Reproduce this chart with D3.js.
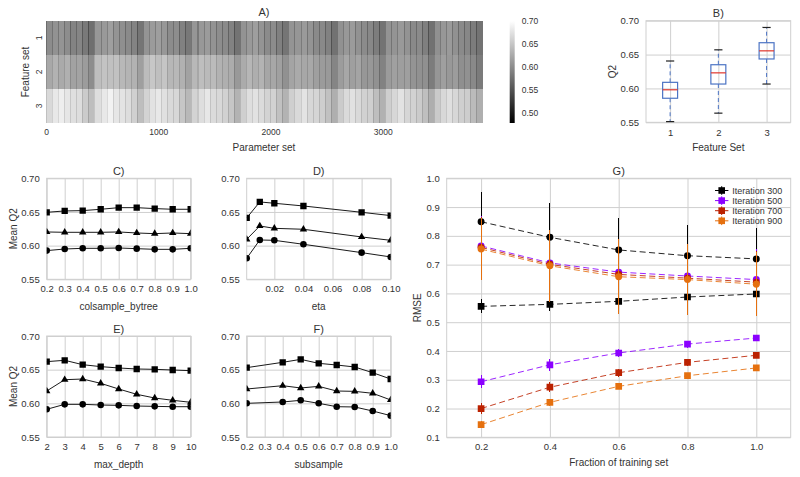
<!DOCTYPE html>
<html><head><meta charset="utf-8">
<script src="https://cdn.jsdelivr.net/npm/d3@7"></script>
<style>
body{margin:0;background:#fff;}
svg{display:block;}
</style></head><body>
<svg id="chart" width="800" height="477"></svg>
<script>
// ================= DATA =================
// A) heatmap: 3888 parameter sets x 3 feature sets.
// Values read per block of 54 parameter sets; "line" = first 9 sets of each block.
const nParamSets = 3888;
const blockSize = 54;
const lineSize = 9;
const featureSets = [1, 2, 3];
const heatXTicks = [0, 1000, 2000, 3000];
const heatMain1 = [
0.600,0.605,0.607,0.601,0.592,0.594,0.583,0.574, 0.609,0.611,0.616,0.607,0.602,0.598,0.592,0.580,
0.607,0.613,0.615,0.609,0.600,0.601,0.590,0.582, 0.608,0.610,0.613,0.606,0.601,0.598,0.591,0.578,
0.606,0.611,0.615,0.607,0.599,0.600,0.589,0.580, 0.607,0.608,0.612,0.607,0.598,0.597,0.590,0.577,
0.604,0.610,0.613,0.605,0.599,0.596,0.587,0.578, 0.606,0.607,0.611,0.606,0.597,0.598,0.588,0.576,
0.603,0.609,0.612,0.604,0.598,0.595,0.586,0.578];
const heatLine1 = [
0.572,0.578,0.579,0.574,0.563,0.567,0.555,0.545, 0.581,0.583,0.589,0.579,0.575,0.570,0.564,0.551,
0.579,0.586,0.587,0.582,0.571,0.574,0.561,0.554, 0.580,0.582,0.586,0.578,0.573,0.569,0.563,0.549,
0.578,0.584,0.587,0.579,0.570,0.573,0.560,0.552, 0.580,0.580,0.585,0.579,0.569,0.569,0.562,0.548,
0.576,0.583,0.585,0.577,0.571,0.567,0.558,0.550, 0.579,0.579,0.584,0.578,0.568,0.570,0.560,0.547,
0.575,0.582,0.584,0.576,0.570,0.566,0.557,0.550];
const heatMain2 = [
0.624,0.633,0.626,0.631,0.619,0.620,0.614,0.601, 0.643,0.648,0.645,0.646,0.638,0.635,0.633,0.616,
0.642,0.651,0.644,0.649,0.637,0.638,0.632,0.619, 0.638,0.643,0.640,0.641,0.633,0.630,0.628,0.611,
0.627,0.636,0.629,0.634,0.622,0.623,0.617,0.604, 0.621,0.626,0.623,0.624,0.616,0.613,0.611,0.594,
0.614,0.623,0.616,0.621,0.609,0.610,0.604,0.591, 0.613,0.617,0.615,0.616,0.607,0.604,0.603,0.586,
0.608,0.616,0.610,0.614,0.602,0.604,0.597,0.585];
const heatLine2 = [
0.604,0.613,0.606,0.611,0.599,0.600,0.594,0.581, 0.623,0.628,0.625,0.626,0.618,0.615,0.613,0.596,
0.622,0.631,0.624,0.629,0.617,0.618,0.612,0.599, 0.618,0.623,0.620,0.621,0.613,0.610,0.608,0.591,
0.607,0.616,0.609,0.614,0.602,0.603,0.597,0.584, 0.601,0.606,0.603,0.604,0.596,0.593,0.591,0.574,
0.594,0.603,0.596,0.601,0.589,0.590,0.584,0.571, 0.593,0.597,0.595,0.596,0.587,0.584,0.583,0.566,
0.588,0.596,0.590,0.594,0.582,0.584,0.577,0.565];
const heatMain3 = [
0.667,0.680,0.685,0.678,0.672,0.670,0.655,0.643, 0.671,0.680,0.689,0.678,0.676,0.670,0.659,0.643,
0.662,0.675,0.680,0.673,0.667,0.665,0.650,0.638, 0.662,0.671,0.679,0.669,0.666,0.660,0.650,0.634,
0.658,0.671,0.675,0.669,0.662,0.661,0.646,0.634, 0.658,0.667,0.676,0.665,0.663,0.657,0.646,0.630,
0.655,0.668,0.674,0.667,0.660,0.658,0.643,0.632, 0.657,0.665,0.675,0.664,0.661,0.655,0.644,0.629,
0.654,0.666,0.672,0.665,0.658,0.656,0.641,0.630];
const heatLine3 = [
0.645,0.658,0.663,0.656,0.650,0.648,0.633,0.621, 0.649,0.658,0.667,0.656,0.654,0.648,0.637,0.621,
0.640,0.653,0.658,0.651,0.645,0.643,0.628,0.616, 0.640,0.649,0.657,0.647,0.644,0.638,0.628,0.612,
0.636,0.649,0.653,0.647,0.640,0.639,0.624,0.612, 0.636,0.645,0.654,0.643,0.641,0.635,0.624,0.608,
0.633,0.646,0.652,0.645,0.638,0.636,0.621,0.610, 0.635,0.643,0.653,0.642,0.639,0.633,0.622,0.607,
0.632,0.644,0.650,0.643,0.636,0.634,0.619,0.608];
const cbarDomain = [0.4776, 0.70];
const cbarTicks = [0.50, 0.55, 0.60, 0.65, 0.70];

// B) box plot stats: [whisker low, q1, median, q3, whisker high]
const boxSet1 = [0.551, 0.5855, 0.598, 0.609, 0.6405];
const boxSet2 = [0.5635, 0.6065, 0.623, 0.635, 0.657];
const boxSet3 = [0.6065, 0.6435, 0.6555, 0.6675, 0.690];
const q2Ticks = [0.55, 0.60, 0.65, 0.70];

// C) colsample_bytree
const colsample = [0.2,0.3,0.4,0.5,0.6,0.7,0.8,0.9,1.0];
const colsampleSet1 = [0.5926,0.5950,0.5960,0.5960,0.5965,0.5955,0.5945,0.5945,0.5960];
const colsampleSet2 = [0.6203,0.6198,0.6198,0.6198,0.6203,0.6188,0.6178,0.6188,0.6178];
const colsampleSet3 = [0.6495,0.6515,0.6520,0.6540,0.6564,0.6564,0.6550,0.6540,0.6540];
// D) eta
const eta = [0.001,0.01,0.02,0.04,0.08,0.1];
const etaTicks = [0.02,0.04,0.06,0.08,0.10];
const etaSet1 = [0.5812,0.6084,0.6079,0.6020,0.5896,0.5832];
const etaSet2 = [0.6094,0.6292,0.6257,0.6243,0.6129,0.6079];
const etaSet3 = [0.6411,0.6649,0.6629,0.6589,0.6495,0.6446];
// E) max_depth
const maxDepth = [2,3,4,5,6,7,8,9,10];
const depthSet1 = [0.5911,0.5985,0.5985,0.5975,0.5970,0.5960,0.5955,0.5950,0.5950];
const depthSet2 = [0.6183,0.6351,0.6361,0.6297,0.6213,0.6134,0.6079,0.6045,0.6015];
const depthSet3 = [0.6619,0.6639,0.6574,0.6545,0.6525,0.6510,0.6505,0.6495,0.6485];
// F) subsample
const subsample = [0.2,0.4,0.5,0.6,0.7,0.8,0.9,1.0];
const subsampleTicks = [0.2,0.3,0.4,0.5,0.6,0.7,0.8,0.9,1.0];
const subsampleSet1 = [0.6000,0.6020,0.6045,0.6000,0.5950,0.5946,0.5886,0.5817];
const subsampleSet2 = [0.6213,0.6262,0.6228,0.6252,0.6183,0.6178,0.6149,0.6050];
const subsampleSet3 = [0.6530,0.6609,0.6653,0.6594,0.6569,0.6540,0.6455,0.6361];

// G) learning curves
const fractions = [0.2,0.4,0.6,0.8,1.0];
const iterations = [300,500,700,900];
const testRMSE300 = [0.849,0.795,0.751,0.731,0.720];
const testRMSE500 = [0.765,0.706,0.674,0.6605,0.648];
const testRMSE700 = [0.760,0.701,0.666,0.653,0.639];
const testRMSE900 = [0.754,0.696,0.658,0.648,0.632];
const testErr300 = [0.104,0.118,0.112,0.107,0.106];
const testErr500 = [0.104,0.114,0.115,0.110,0.105];
const testErr700 = [0.106,0.120,0.122,0.115,0.108];
const testErr900 = [0.108,0.125,0.130,0.122,0.112];
const trainRMSE300 = [0.555,0.562,0.5725,0.5875,0.598];
const trainRMSE500 = [0.293,0.352,0.393,0.424,0.445];
const trainRMSE700 = [0.200,0.274,0.3245,0.3605,0.385];
const trainRMSE900 = [0.144,0.2215,0.277,0.314,0.341];
const trainErr300 = [0.024,0.022,0.020,0.020,0.020];
const trainErr500 = [0.022,0.020,0.015,0.012,0.010];
const trainErr700 = [0.020,0.018,0.014,0.012,0.010];
const trainErr900 = [0.012,0.012,0.010,0.010,0.008];
const rmseTicks = [0.1,0.2,0.3,0.4,0.5,0.6,0.7,0.8,0.9,1.0];

// ================= STYLE =================
const FONT = '"Liberation Sans", Arial, Helvetica, sans-serif';
const TXT = "#333333";
const GRID = "#cfcfcf";
const iterColors = ["#000000", "#8b00ff", "#bb2100", "#e5700f"];
const svg = d3.select("#chart").style("font-family", FONT);
const fmt1 = d3.format(".1f"), fmt2 = d3.format(".2f"), fmtD = d3.format("d");

function styleAxis(a, size) {
  a.select(".domain").remove();
  a.selectAll(".tick line").attr("stroke", GRID).attr("stroke-width", 1);
  a.selectAll(".tick text").attr("fill", TXT).style("font-size", size + "px").style("font-family", FONT);
}
function gridAxes(g, x, y, xTicks, yTicks, xFmt, yFmt, padX) {
  const [xa, xb] = x.range(), [yb, ya] = y.range();
  const gx = g.append("g").attr("transform", `translate(0,${yb})`)
    .call(d3.axisBottom(x).tickValues(xTicks).tickFormat(xFmt).tickSizeInner(-(yb - ya)).tickSizeOuter(0).tickPadding(padX || 6));
  const gy = g.append("g").attr("transform", `translate(${xa},0)`)
    .call(d3.axisLeft(y).tickValues(yTicks).tickFormat(yFmt).tickSizeInner(-(xb - xa)).tickSizeOuter(0).tickPadding(7));
  styleAxis(gx, 9.5); styleAxis(gy, 9.5);
  g.append("rect").attr("x", xa).attr("y", ya).attr("width", xb - xa).attr("height", yb - ya)
    .attr("fill", "none").attr("stroke", GRID).attr("stroke-width", 1);
}
function txt(g, x, y, s, size, anchor, rot) {
  const t = g.append("text").attr("fill", TXT).style("font-size", size + "px")
    .attr("text-anchor", anchor || "middle").text(s);
  if (rot) t.attr("transform", `translate(${x},${y}) rotate(${rot})`);
  else t.attr("x", x).attr("y", y);
  return t;
}
let clipId = 0;
function clipFor(g, x, y) {
  const id = "clip" + (clipId++);
  g.append("clipPath").attr("id", id).append("rect")
    .attr("x", x.range()[0]).attr("y", y.range()[1])
    .attr("width", x.range()[1] - x.range()[0]).attr("height", y.range()[0] - y.range()[1]);
  return g.append("g").attr("clip-path", `url(#${id})`);
}

// ================= A) HEATMAP =================
(function () {
  const g = svg.append("g");
  const x = d3.scaleLinear().domain([0, nParamSets]).range([46, 482.3]);
  const y = d3.scaleBand().domain(featureSets).range([21, 123]);
  const grey = d3.scaleLinear().domain(cbarDomain).range(["#000000", "#ffffff"]).clamp(true);
  const rows = [[heatMain1, heatLine1], [heatMain2, heatLine2], [heatMain3, heatLine3]];
  const cells = [];
  rows.forEach(([main, line], ri) => {
    main.forEach((v, b) => {
      const s = b * blockSize;
      cells.push({ fs: featureSets[ri], a: s, b: s + lineSize, v: line[b] });
      cells.push({ fs: featureSets[ri], a: s + lineSize, b: s + blockSize, v: v });
    });
  });
  g.append("g").selectAll("rect").data(cells).join("rect")
    .attr("x", d => x(d.a)).attr("width", d => x(d.b) - x(d.a) + 0.25)
    .attr("y", d => y(d.fs)).attr("height", y.bandwidth())
    .attr("fill", d => grey(d.v)).attr("shape-rendering", "crispEdges");
  const ax = g.append("g").attr("transform", "translate(0,123)")
    .call(d3.axisBottom(x).tickValues(heatXTicks).tickFormat(fmtD).tickSize(0).tickPadding(6));
  styleAxis(ax, 8.5);
  featureSets.forEach(fs => {
    txt(g, 41.5, y(fs) + y.bandwidth() / 2, String(fs), 8.5, "middle", -90);
  });
  txt(g, 264, 16, "A)", 11);
  txt(g, 264, 151, "Parameter set", 10);
  txt(g, 29, 72, "Feature set", 10, "middle", -90);
  // colorbar
  const yc = d3.scaleLinear().domain(cbarDomain).range([123, 21]);
  const grad = svg.append("defs").append("linearGradient").attr("id", "cbar")
    .attr("x1", 0).attr("y1", 1).attr("x2", 0).attr("y2", 0);
  d3.range(0, 1.0001, 0.1).forEach(t => {
    const v = cbarDomain[0] + t * (cbarDomain[1] - cbarDomain[0]);
    grad.append("stop").attr("offset", t).attr("stop-color", grey(v));
  });
  g.append("rect").attr("x", 509.7).attr("width", 5).attr("y", yc(cbarDomain[1]))
    .attr("height", yc(cbarDomain[0]) - yc(cbarDomain[1])).attr("fill", "url(#cbar)");
  const ac = g.append("g").attr("transform", "translate(514.7,0)")
    .call(d3.axisRight(yc).tickValues(cbarTicks).tickFormat(fmt2).tickSize(0).tickPadding(7));
  styleAxis(ac, 8.5);
})();

// ================= B) BOX PLOT =================
(function () {
  const g = svg.append("g");
  const x = d3.scaleLinear().domain([0.5, 3.5]).range([646, 790.7]);
  const y = d3.scaleLinear().domain([0.55, 0.70]).range([122.3, 20.7]);
  gridAxes(g, x, y, featureSets, q2Ticks, fmtD, fmt2, 7);
  const boxes = [boxSet1, boxSet2, boxSet3];
  const hw = 0.155, cw = 0.085;
  boxes.forEach((st, i) => {
    const c = featureSets[i];
    const [lo, q1, med, q3, hi] = st;
    const bg = g.append("g");
    bg.append("line").attr("x1", x(c)).attr("x2", x(c)).attr("y1", y(q3)).attr("y2", y(hi))
      .attr("stroke", "#4c74c4").attr("stroke-dasharray", "4,3");
    bg.append("line").attr("x1", x(c)).attr("x2", x(c)).attr("y1", y(q1)).attr("y2", y(lo))
      .attr("stroke", "#4c74c4").attr("stroke-dasharray", "4,3");
    [lo, hi].forEach(v => bg.append("line").attr("x1", x(c - cw)).attr("x2", x(c + cw))
      .attr("y1", y(v)).attr("y2", y(v)).attr("stroke", "#222").attr("stroke-width", 1.2));
    bg.append("rect").attr("x", x(c - hw)).attr("width", x(c + hw) - x(c - hw))
      .attr("y", y(q3)).attr("height", y(q1) - y(q3))
      .attr("fill", "none").attr("stroke", "#4c74c4").attr("stroke-width", 1.2);
    bg.append("line").attr("x1", x(c - hw)).attr("x2", x(c + hw)).attr("y1", y(med)).attr("y2", y(med))
      .attr("stroke", "#e0352b").attr("stroke-width", 1.2);
  });
  txt(g, 718.3, 17, "B)", 11);
  txt(g, 718.3, 150.5, "Feature Set", 10);
  txt(g, 616, 71.5, "Q2", 10, "middle", -90);
})();

// ================= C-F) LINE PANELS =================
function linePanel(cfg) {
  const g = svg.append("g");
  const x = d3.scaleLinear().domain(cfg.xDomain).range([cfg.x0, cfg.x0 + 144]);
  const y = d3.scaleLinear().domain([0.55, 0.70]).range([cfg.y0 + 101, cfg.y0]);
  gridAxes(g, x, y, cfg.xTicks, q2Ticks, cfg.xFmt, fmt2, 6);
  const data = clipFor(g, x, y);
  const shapes = [d3.symbolCircle, d3.symbolTriangle, d3.symbolSquare];
  const sizes = [34, 24, 40];
  cfg.series.forEach((vals, i) => {
    const pts = cfg.xs.map((xv, k) => [xv, vals[k]]);
    data.append("path").datum(pts)
      .attr("d", d3.line().x(d => x(d[0])).y(d => y(d[1])))
      .attr("fill", "none").attr("stroke", "#1a1a1a").attr("stroke-width", 1);
    data.selectAll(null).data(pts).join("path")
      .attr("d", d3.symbol().type(shapes[i]).size(sizes[i]))
      .attr("transform", d => `translate(${x(d[0])},${y(d[1])})`)
      .attr("fill", "#000");
  });
  const cx = cfg.x0 + 72;
  txt(g, cx, cfg.y0 - 3.5, cfg.title, 11);
  txt(g, cx, cfg.y0 + 132, cfg.xLabel, 10);
  if (cfg.yLabel) txt(g, 16.5, cfg.y0 + 50.5, cfg.yLabel, 10, "middle", -90);
}
linePanel({ x0: 46.7, y0: 178.3, xDomain: [0.2, 1.0], xTicks: colsample, xFmt: fmt1,
  xs: colsample, series: [colsampleSet1, colsampleSet2, colsampleSet3],
  title: "C)", xLabel: "colsample_bytree", yLabel: "Mean Q2" });
linePanel({ x0: 246.7, y0: 178.3, xDomain: [0.001, 0.1], xTicks: etaTicks, xFmt: fmt2,
  xs: eta, series: [etaSet1, etaSet2, etaSet3],
  title: "D)", xLabel: "eta" });
linePanel({ x0: 46.7, y0: 336, xDomain: [2, 10], xTicks: maxDepth, xFmt: fmtD,
  xs: maxDepth, series: [depthSet1, depthSet2, depthSet3],
  title: "E)", xLabel: "max_depth", yLabel: "Mean Q2" });
linePanel({ x0: 246.7, y0: 336, xDomain: [0.2, 1.0], xTicks: subsampleTicks, xFmt: fmt1,
  xs: subsample, series: [subsampleSet1, subsampleSet2, subsampleSet3],
  title: "F)", xLabel: "subsample" });

// ================= G) LEARNING CURVES =================
(function () {
  const g = svg.append("g");
  const x = d3.scaleLinear().domain([0.1, 1.1]).range([446.7, 790.7]);
  const y = d3.scaleLinear().domain([0.1, 1.0]).range([437.3, 178.3]);
  gridAxes(g, x, y, fractions, rmseTicks, fmt1, fmt1, 6);
  const data = clipFor(g, x, y);
  const tests = [[testRMSE300, testErr300], [testRMSE500, testErr500], [testRMSE700, testErr700], [testRMSE900, testErr900]];
  const trains = [[trainRMSE300, trainErr300], [trainRMSE500, trainErr500], [trainRMSE700, trainErr700], [trainRMSE900, trainErr900]];
  function series(vals, errs, color, shape) {
    const pts = fractions.map((f, k) => ({ f, v: vals[k], e: errs[k] }));
    data.selectAll(null).data(pts).join("line")
      .attr("x1", d => x(d.f)).attr("x2", d => x(d.f))
      .attr("y1", d => y(d.v - d.e)).attr("y2", d => y(d.v + d.e))
      .attr("stroke", color).attr("stroke-width", 1).attr("shape-rendering", "crispEdges");
    data.append("path").datum(pts)
      .attr("d", d3.line().x(d => x(d.f)).y(d => y(d.v)))
      .attr("fill", "none").attr("stroke", color).attr("stroke-width", 1)
      .attr("stroke-dasharray", "6,3.5").attr("opacity", 0.85);
    data.selectAll(null).data(pts).join("path")
      .attr("d", d3.symbol().type(shape).size(shape === d3.symbolSquare ? 45 : 38))
      .attr("transform", d => `translate(${x(d.f)},${y(d.v)})`)
      .attr("fill", color);
  }
  iterations.forEach((it, i) => {
    series(tests[i][0], tests[i][1], iterColors[i], d3.symbolCircle);
    series(trains[i][0], trains[i][1], iterColors[i], d3.symbolSquare);
  });
  // legend
  const lg = g.append("g");
  iterations.forEach((it, i) => {
    const ly = 190.5 + i * 10.1, c = iterColors[i];
    lg.append("line").attr("x1", 715).attr("x2", 728.4).attr("y1", ly).attr("y2", ly).attr("stroke", c);
    lg.append("line").attr("x1", 721.7).attr("x2", 721.7).attr("y1", ly - 4.3).attr("y2", ly + 4.3).attr("stroke", c);
    lg.append("rect").attr("x", 718.4).attr("y", ly - 3.3).attr("width", 6.6).attr("height", 6.6).attr("fill", c);
    txt(lg, 732.3, ly + 3.2, "Iteration " + it, 9, "start");
  });
  txt(g, 618.7, 174.5, "G)", 11);
  txt(g, 618.7, 466, "Fraction of training set", 10);
  txt(g, 420.5, 307.8, "RMSE", 10, "middle", -90);
})();
</script>
</body></html>
